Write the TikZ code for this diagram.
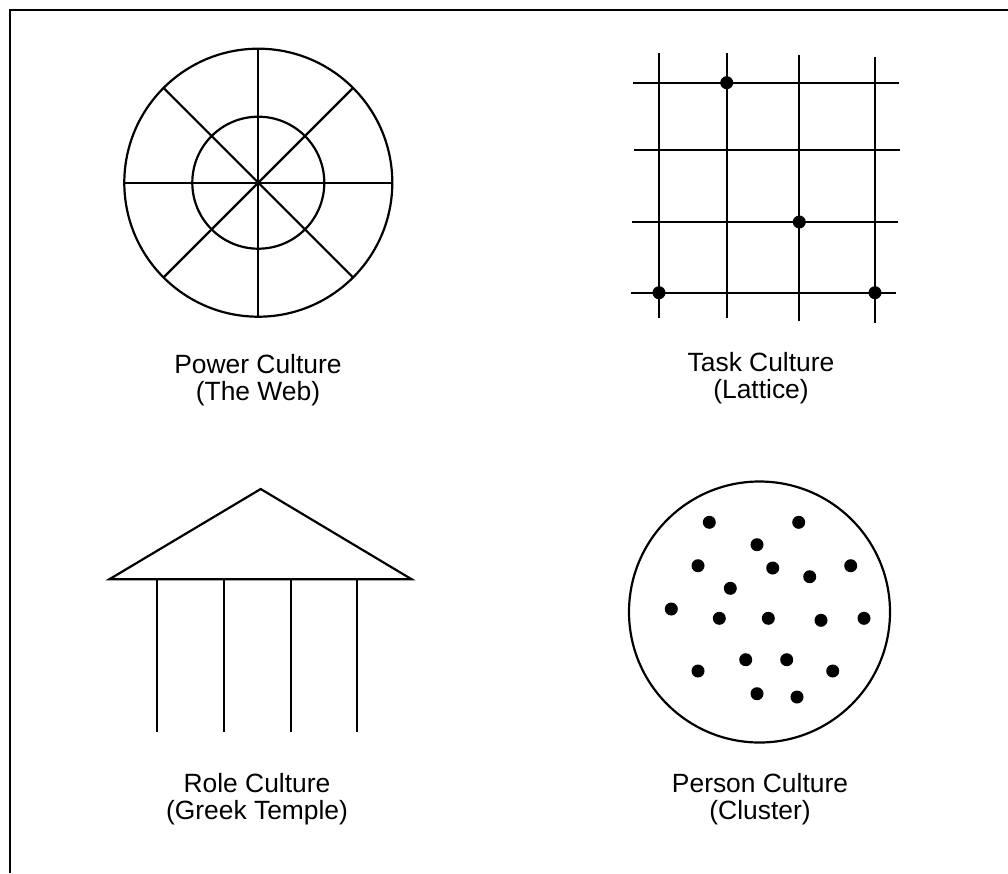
\documentclass[tikz,border=0pt]{standalone}
\usepackage{fontspec}
\setmainfont{Liberation Sans}
\begin{document}
\begin{tikzpicture}[x=1pt,y=-1pt,
  ln/.style={line width=2.2pt, black},
  dot/.style={fill=black},
  lbl/.style={anchor=base, inner sep=0pt, font=\fontsize{26.4}{28}\selectfont}]
\useasboundingbox (0,0) rectangle (1008,873);
% frame (top and left only)
\draw[line width=2.2pt] (1008,10) -- (10,10) -- (10,873);
% Power culture: the web
\coordinate (wc) at (258.3,182.7);
\draw[ln] (wc) circle[radius=134];
\draw[ln] (wc) circle[radius=66];
\foreach \a in {0,45,...,315}{\draw[ln] (wc) -- ++(\a:134);}
\node[lbl] (p1) at (258,373) {Power Culture};
\node[lbl] (p2) at (258,400) {(The Web)};
% Task culture: lattice
\draw[ln] (659,53.3) -- (659,318.3);
\draw[ln] (726.7,53.3) -- (726.7,318.3);
\draw[ln] (799.3,55) -- (799.3,321);
\draw[ln] (875,57.3) -- (875,322.7);
\draw[ln] (633.3,82.7) -- (899,82.7);
\draw[ln] (634,150) -- (900,150);
\draw[ln] (632,222) -- (898,222);
\draw[ln] (630.7,292.7) -- (896.3,292.7);
\foreach \p in {(726.7,82.7),(799.3,222),(659,292.7),(875,292.7)}{\fill[dot] \p circle[radius=6.5];}
\node[lbl] (t1) at (761,371) {Task Culture};
\node[lbl] (t2) at (761,398) {(Lattice)};
% Role culture: Greek temple
\draw[ln, line join=miter] (109.3,579.3) -- (260.7,489) -- (411.7,579.3) -- cycle;
\foreach \x in {157.3,224.3,290.7,356.7}{\draw[ln] (\x,579.3) -- (\x,731.7);}
\node[lbl] (r1) at (257,792) {Role Culture};
\node[lbl] (r2) at (257,819) {(Greek Temple)};
% Person culture: cluster
\draw[ln] (759.5,612) circle[radius=130.5];
\foreach \p in {(709.3,522.3),(798.7,522.3),(757,544.7),(698,565.7),(772.7,568),
  (809.7,576.7),(850.7,565.7),(730.3,588.3),(671.3,609),(719.3,618.3),(768.3,618.3),
  (821,620.3),(864,618.3),(745.7,659.7),(786.7,659.7),(698,671),(832.7,671),
  (757,693.7),(797,697)}{\fill[dot] \p circle[radius=6.5];}
\node[lbl] (c1) at (760,792) {Person Culture};
\node[lbl] (c2) at (760,819) {(Cluster)};
\end{tikzpicture}
\end{document}
